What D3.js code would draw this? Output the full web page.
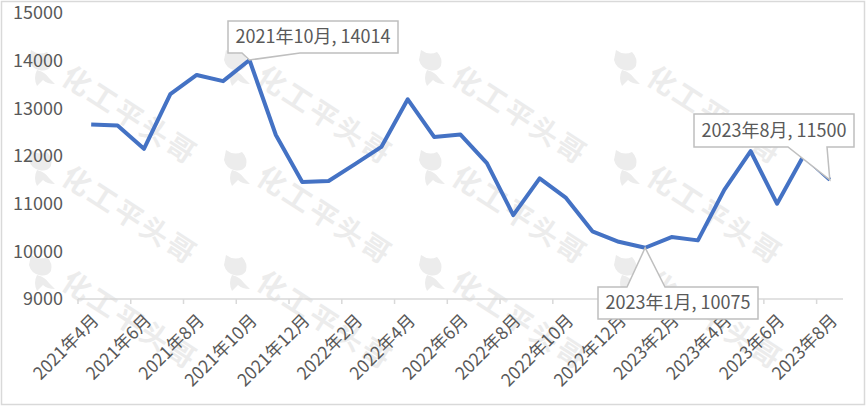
<!DOCTYPE html>
<html><head><meta charset="utf-8">
<script src="https://cdn.jsdelivr.net/npm/d3@7"></script>
<style>
html,body{margin:0;padding:0;background:#fff;}
svg{display:block;font-family:"Noto Sans CJK SC","Noto Sans",sans-serif;}
</style></head>
<body><svg id="c" width="867" height="407"></svg>
<script>
const months = ["2021年4月","2021年5月","2021年6月","2021年7月","2021年8月","2021年9月","2021年10月","2021年11月","2021年12月",
"2022年1月","2022年2月","2022年3月","2022年4月","2022年5月","2022年6月","2022年7月","2022年8月","2022年9月","2022年10月","2022年11月","2022年12月",
"2023年1月","2023年2月","2023年3月","2023年4月","2023年5月","2023年6月","2023年7月","2023年8月"];
const prices = [12660,12640,12150,13300,13700,13570,14014,12440,11455,11476,11830,12190,13190,12400,12450,11850,10760,11530,11120,10420,10200,10075,10300,10230,11290,12100,11000,12000,11500];
const yTicks = [9000,10000,11000,12000,13000,14000,15000];
const callouts = ["2021年10月","2023年1月","2023年8月"];

const svg = d3.select("#c");
const W = 867, H = 407;
svg.append("rect").attr("x",1.5).attr("y",1.5).attr("width",W-4).attr("height",H-4)
  .attr("fill","#fff").attr("stroke","#d9d9d9").attr("stroke-width",1.5);

// watermark (only fully visible copies)
const wm = svg.append("g").attr("fill","#ececec");
const colsX = [75,270,465,660];
const rowsY = [80,180,285];
colsX.forEach(cx=>rowsY.forEach(ry=>{
  wm.append("text").attr("transform",`translate(${cx},${ry}) rotate(33)`)
    .attr("font-size",28).attr("font-weight","bold").attr("letter-spacing",3).attr("dy","0.35em").attr("x",-12)
    .text("化工平头哥");
  const m = wm.append("g").attr("transform",`translate(${cx-34},${ry-16})`);
  m.append("path").attr("d","M-10,-14 Q-2,-8 6,-12 Q12,-6 10,2 Q6,8 -2,6 Q-10,4 -12,-4 Z");
  m.append("path").attr("d","M-4,6 Q4,8 8,14 L14,20 Q6,20 2,16 L-4,22 Q-8,14 -4,6 Z");
}));

const x = d3.scaleBand().domain(months).range([78,843]).paddingInner(0).paddingOuter(0);
const y = d3.scaleLinear().domain([9000,15000]).range([299,13]);
const cx = m => x(m) + x.bandwidth()/2;

// y axis labels
const ya = svg.append("g").attr("transform","translate(66,0)")
  .call(d3.axisLeft(y).tickValues(yTicks).tickSize(0).tickPadding(3).tickFormat(d3.format("d")));
ya.select(".domain").remove();
ya.selectAll("text").attr("font-size",18).attr("fill","#595959").attr("font-family","'Noto Sans CJK SC',sans-serif");

// x axis
const xa = svg.append("g").attr("transform",`translate(0,${y(9000)})`);
xa.append("line").attr("x1",78).attr("x2",843).attr("stroke","#d9d9d9").attr("stroke-width",1.5);
const tickIdx = months.map((m,i)=>i).filter(i=>i%2===0);
xa.selectAll("line.t").data(tickIdx).enter().append("line").attr("class","t")
  .attr("x1",i=>x(months[i])).attr("x2",i=>x(months[i])).attr("y1",0).attr("y2",5)
  .attr("stroke","#d9d9d9").attr("stroke-width",1.5);
xa.selectAll("text").data(tickIdx).enter().append("text")
  .attr("transform",i=>`translate(${cx(months[i])},${14}) rotate(-45)`)
  .attr("text-anchor","end").attr("dy","0.7em").attr("font-size",17.5).attr("fill","#595959")
  .text(i=>months[i]);

// line
const data = months.map((m,i)=>({m, v:prices[i]}));
svg.append("path").datum(data)
  .attr("d", d3.line().x(d=>cx(d.m)).y(d=>y(d.v)))
  .attr("fill","none").attr("stroke","#4472C4").attr("stroke-width",4).attr("stroke-linejoin","round");

// callouts
const cfg = {
  "2021年10月": {bx:228, by:21, bw:170, bh:32, w1:242, w2:300, side:"bottom"},
  "2023年1月":  {bx:598, by:287, bw:160, bh:32, w1:627, w2:665, side:"top"},
  "2023年8月":  {bx:694, by:114, bw:160, bh:33, w1:788, w2:827, side:"bottom"}
};
callouts.forEach(mn=>{
  const i = months.indexOf(mn), c = cfg[mn];
  const px = cx(mn), py = y(prices[i]);
  const g = svg.append("g");
  let d;
  if (c.side==="bottom") {
    const b = c.by + c.bh;
    d = `M${c.bx},${c.by} H${c.bx+c.bw} V${b} H${c.w2} L${px},${py} L${c.w1},${b} H${c.bx} Z`;
  } else {
    d = `M${c.bx},${c.by} H${c.w1} L${px},${py} L${c.w2},${c.by} H${c.bx+c.bw} V${c.by+c.bh} H${c.bx} Z`;
  }
  g.append("path").attr("d",d).attr("fill","#fff").attr("stroke","#bfbfbf").attr("stroke-width",1.5);
  g.append("text").attr("x",c.bx+c.bw/2).attr("y",c.by+c.bh/2).attr("dy","0.36em")
    .attr("text-anchor","middle").attr("font-size",18).attr("fill","#595959")
    .text(`${mn}, ${prices[i]}`);
});
</script></body></html>
